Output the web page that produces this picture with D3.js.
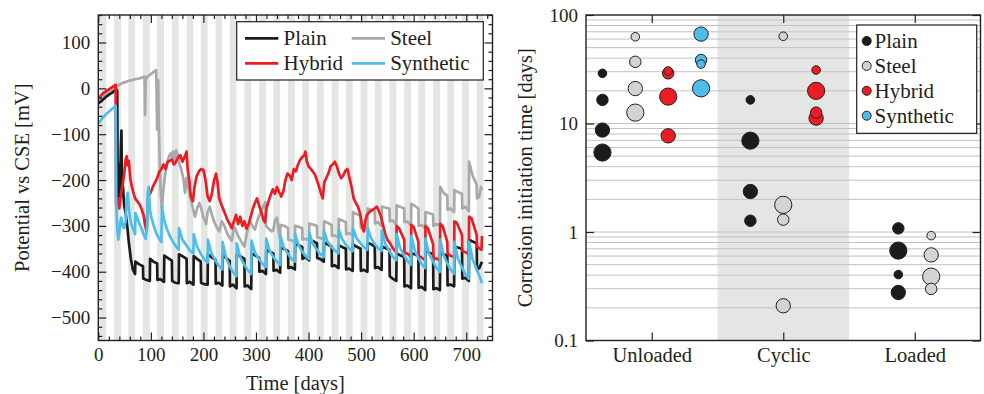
<!DOCTYPE html>
<html>
<head>
<meta charset="utf-8">
<script src="https://cdn.jsdelivr.net/npm/d3@7"></script>
<style>
  html, body { margin: 0; padding: 0; background: #fff; }
  svg { display: block; font-family: "Liberation Serif", "DejaVu Serif", serif; }
</style>
</head>
<body>
<div id="chart"></div>
<script>
// ---- data: left panel (potential vs time) ----
const seriesNames = ["Plain", "Steel", "Hybrid", "Synthetic"];
const seriesColors = { Plain: "#1c1a1b", Steel: "#a9a9ab", Hybrid: "#ec1c24", Synthetic: "#4fbdea" };

// start day of each grey (wet) period, 13 days long
const wetStarts = [2, 30, 57, 85, 112, 140, 168, 195, 223, 250, 278, 306, 333, 361, 388, 416, 444, 471, 499, 526, 554, 582, 609, 637, 664, 692, 720];
const wetLength = 13;

const timeTicks = [0, 100, 200, 300, 400, 500, 600, 700];
const potentialTicks = [-500, -400, -300, -200, -100, 0, 100];

const plainSeries = [
  [0,-33],[3,-30],[6,-28],[9,-24],[12,-22],[15,-18],[18,-16],[21,-13],[24,-11],[27,-9],[30,-6],[33,-4],[35,-3],
  [36,-6],[37,-240],[39,-165],[41,-235],[43,-130],[44,-92],[45,-205],[47,-215],[49,-255],[52,-272],[55,-300],[58,-335],[62,-372],[66,-396],[70,-405],
  [70.5,-378],[78,-384],[85,-388],[85.5,-415],[92,-418],[98,-420],
  [98.5,-372],[105,-378],[112,-382],[112.5,-418],[118,-416],[125,-422],
  [125.5,-365],[132,-370],[140,-376],[140.5,-420],[146,-424],[153,-425],
  [153.5,-362],[160,-366],[168,-372],[168.5,-425],[174,-422],[181,-428],
  [181.5,-366],[188,-372],[195,-378],[195.5,-424],[201,-427],[208,-428],
  [208.5,-362],[215,-368],[223,-374],[223.5,-426],[229,-424],[236,-430],
  [236.5,-365],[243,-370],[250,-376],[250.5,-432],[256,-428],[263,-436],
  [263.5,-362],[270,-366],[278,-372],[278.5,-432],[284,-430],[291,-438],
  [291.5,-360],[298,-364],[306,-370],[306.5,-400],[312,-398],[319,-405],
  [319.5,-352],[326,-356],[333,-360],[333.5,-398],[339,-396],[346,-402],
  [346.5,-348],[353,-350],[361,-355],[361.5,-392],[367,-390],[374,-395],
  [374.5,-340],[381,-342],[388,-346],[388.5,-372],[394,-368],[401,-375],
  [401.5,-330],[408,-333],[416,-338],[416.5,-370],[422,-372],[429,-378],
  [429.5,-336],[436,-340],[444,-345],[444.5,-388],[450,-386],[457,-392],
  [457.5,-342],[464,-346],[471,-350],[471.5,-395],[477,-393],[484,-398],
  [484.5,-340],[491,-345],[499,-350],[499.5,-398],[505,-396],[512,-400],
  [512.5,-337],[519,-340],[526,-345],[526.5,-392],[532,-390],[539,-396],
  [539.5,-345],[546,-348],[554,-352],[554.5,-410],[560,-415],[567,-420],
  [567.5,-360],[574,-364],[582,-368],[582.5,-432],[588,-430],[595,-436],
  [595.5,-360],[602,-362],[609,-366],[609.5,-435],[615,-433],[622,-440],
  [622.5,-355],[629,-358],[637,-362],[637.5,-438],[643,-436],[650,-440],
  [650.5,-360],[657,-362],[664,-365],[664.5,-430],[670,-428],[677,-432],
  [677.5,-345],[684,-347],[692,-350],[692.5,-415],[698,-413],[705,-420],
  [705.5,-330],[712,-334],[720,-338],[720.5,-395],[725,-392],[730,-378]
];

const steelSeries = [
  [0,-28],[4,-24],[8,-19],[12,-14],[16,-10],[20,-6],[25,-3],[30,1],[35,4],[40,8],[45,11],[50,13],[55,15],[60,17],[65,18],[70,20],
  [75,21],[80,22],[85,24],[88,26],[89,-58],[90,18],[93,25],[96,28],[100,31],[104,35],[108,38],[110,40],[111,-10],[112,-90],[113,8],
  [114,18],[115,-70],[117,-165],[119,-235],[121,-262],[123,-232],[126,-198],[130,-168],[134,-150],[137,-142],[140,-150],[142,-138],
  [145,-158],[148,-135],[151,-145],[154,-162],[158,-178],[162,-198],[165,-228],[168,-195],[171,-212],[175,-238],[180,-262],[184,-280],
  [188,-262],[192,-250],[196,-262],[200,-282],[205,-296],[208,-270],[212,-258],[216,-275],[220,-290],[225,-302],[230,-312],[235,-290],
  [240,-300],[245,-316],[250,-326],[254,-332],[258,-302],[262,-310],[266,-322],[270,-330],[274,-338],[278,-345],[282,-320],[286,-300],
  [290,-292],[294,-302],[298,-308],[302,-290],[306,-278],[310,-268],[314,-258],[318,-248],[319,-300],[324,-306],[330,-312],[333,-310],
  [336,-288],[340,-282],[344,-318],[346,-330],
  [346.5,-298],[354,-300],[361,-305],[361.5,-330],[368,-332],[374,-335],
  [374.5,-300],[381,-302],[388,-305],[388.5,-330],[395,-328],[401,-332],
  [401.5,-295],[408,-297],[416,-300],[416.5,-325],[422,-326],[429,-330],
  [429.5,-290],[436,-293],[444,-298],[444.5,-322],[450,-321],[457,-325],
  [457.5,-285],[464,-288],[471,-292],[471.5,-318],[477,-316],[484,-320],
  [484.5,-270],[491,-274],[499,-278],[499.5,-305],[505,-303],[512,-310],
  [512.5,-262],[519,-265],[526,-268],[526.5,-295],[532,-292],[539,-300],
  [539.5,-258],[546,-260],[554,-262],[554.5,-290],[560,-288],[567,-298],
  [567.5,-255],[574,-258],[582,-262],[582.5,-292],[588,-290],[595,-300],
  [595.5,-252],[602,-256],[609,-262],[609.5,-300],[615,-298],[622,-305],
  [622.5,-270],[629,-272],[637,-275],[637.5,-300],[643,-296],[650,-300],
  [650.5,-215],[657,-228],[664,-235],[664.5,-265],[670,-262],[677,-270],
  [677.5,-222],[684,-226],[692,-230],[692.5,-262],[698,-258],[705,-268],
  [705.5,-160],[712,-190],[720,-210],[720.5,-240],[725,-236],[728,-215],[730,-222]
];

const hybridSeries = [
  [0,-22],[4,-17],[8,-12],[12,-8],[16,-5],[20,-2],[24,1],[28,4],[31,6],[33,8],
  [34,-255],[37,-240],[40,-262],[43,-232],[46,-212],[49,-190],[52,-155],[54,-148],[56,-168],[58,-158],[61,-198],[64,-215],[67,-228],
  [70,-240],[74,-246],[78,-252],[82,-262],[86,-276],[89,-298],[92,-312],[94,-242],[97,-232],[100,-226],[104,-214],[108,-205],[112,-196],
  [116,-182],[120,-176],[124,-166],[128,-176],[132,-160],[136,-158],[140,-155],[144,-166],[148,-160],[152,-150],[156,-146],[160,-160],
  [164,-150],[168,-138],[170,-176],[173,-200],[176,-236],[180,-246],[183,-215],[187,-192],[192,-180],[196,-176],[200,-178],[204,-200],
  [208,-236],[212,-246],[216,-230],[220,-202],[224,-186],[227,-206],[230,-240],[235,-256],[240,-270],[245,-285],[250,-296],[254,-305],
  [258,-290],[262,-276],[266,-296],[270,-280],[274,-300],[278,-290],[282,-306],[286,-296],[290,-280],[294,-262],[298,-250],[302,-240],
  [305,-252],[310,-270],[314,-286],[317,-292],[320,-262],[324,-246],[328,-232],[332,-220],[336,-230],[340,-215],[344,-226],[348,-236],
  [352,-225],[356,-200],[360,-186],[364,-190],[368,-200],[372,-176],[376,-181],[380,-166],[384,-156],[388,-150],[392,-146],[394,-138],
  [397,-160],[400,-170],[404,-175],[408,-181],[412,-188],[416,-200],[420,-215],[424,-230],[427,-240],[430,-205],[434,-195],[438,-185],
  [442,-170],[446,-166],[450,-160],[454,-170],[458,-186],[462,-196],[466,-190],[470,-180],[474,-176],[478,-196],[482,-216],[486,-240],
  [490,-250],[494,-258],[498,-272],[502,-300],[505,-312],[508,-290],[511,-276],[516,-270],[520,-266],[526,-262],[530,-258],[534,-268],
  [538,-280],[542,-300],[546,-318],[550,-330],[554,-336],[560,-348],[567,-358],
  [567.5,-300],[572,-305],[582,-330],[582.5,-358],[590,-362],[595,-368],
  [595.5,-298],[600,-302],[609,-335],[609.5,-365],[616,-370],[622,-375],
  [622.5,-300],[627,-305],[637,-340],[637.5,-370],[645,-372],[650,-375],
  [650.5,-295],[655,-300],[664,-335],[664.5,-360],[670,-365],[677,-368],
  [677.5,-290],[682,-293],[692,-320],[692.5,-355],[700,-358],[705,-362],
  [705.5,-280],[710,-283],[720,-320],[720.5,-345],[726,-350],[729,-352],[730,-322]
];

const syntheticSeries = [
  [0,-76],[3,-72],[6,-68],[9,-63],[12,-60],[15,-56],[18,-53],[21,-50],[24,-47],[27,-44],[30,-41],[33,-38],
  [34,-250],[36,-305],[38,-330],[40,-315],[42,-290],[44,-282],[46,-298],[49,-305],[52,-290],[54,-240],[56,-228],[58,-262],[61,-288],
  [64,-300],[67,-310],[70,-318],[70.5,-272],[74,-282],[78,-295],[82,-305],[86,-318],[90,-328],[93,-300],[94,-228],[96,-215],[98,-262],
  [101,-282],[105,-298],[110,-315],[115,-326],[120,-335],[121,-258],[125,-285],[130,-305],[136,-322],[142,-335],[148,-345],[153,-352],
  [153.5,-305],[160,-330],[168,-343],[174,-353],[181,-360],
  [181.5,-318],[188,-346],[195,-361],[201,-372],[208,-380],
  [208.5,-330],[215,-359],[223,-376],[229,-387],[236,-395],
  [236.5,-335],[243,-369],[250,-388],[256,-400],[263,-410],
  [263.5,-338],[270,-368],[278,-385],[284,-396],[291,-405],
  [291.5,-332],[298,-358],[306,-373],[312,-382],[319,-390],
  [319.5,-328],[326,-354],[333,-368],[339,-377],[346,-385],
  [346.5,-322],[353,-347],[361,-361],[367,-371],[374,-378],
  [374.5,-318],[381,-342],[388,-356],[394,-365],[401,-372],
  [401.5,-315],[408,-339],[416,-352],[422,-361],[429,-368],
  [429.5,-312],[436,-334],[444,-346],[450,-354],[457,-360],
  [457.5,-308],[464,-329],[471,-341],[477,-349],[484,-355],
  [484.5,-305],[491,-326],[499,-338],[505,-346],[512,-352],
  [512.5,-305],[519,-327],[526,-340],[532,-348],[539,-355],
  [539.5,-310],[546,-339],[554,-355],[560,-367],[567,-375],
  [567.5,-318],[574,-348],[582,-365],[588,-376],[595,-385],
  [595.5,-322],[602,-353],[609,-371],[615,-383],[622,-392],
  [622.5,-328],[629,-360],[637,-378],[643,-391],[650,-400],
  [650.5,-330],[657,-364],[664,-382],[670,-395],[677,-405],
  [677.5,-335],[684,-371],[692,-391],[698,-405],[705,-415],
  [705.5,-335],[712,-372],[720,-395],[726,-412],[730,-425]
];

// ---- data: right panel (corrosion initiation time) ----
const loadCases = ["Unloaded", "Cyclic", "Loaded"];
const shadedCase = "Cyclic";
const initTicks = [0.1, 1, 10, 100];
// [load case, initiation time in days, marker size class]
const plainInit = [
  ["Unloaded", 29, 1], ["Unloaded", 16.5, 2], ["Unloaded", 8.7, 3], ["Unloaded", 5.4, 4],
  ["Cyclic", 16.5, 1], ["Cyclic", 6.95, 4], ["Cyclic", 2.36, 3], ["Cyclic", 1.27, 2],
  ["Loaded", 1.08, 2], ["Loaded", 0.674, 4], ["Loaded", 0.405, 1], ["Loaded", 0.277, 3]
];
const steelInit = [
  ["Unloaded", 63, 1], ["Unloaded", 37, 2], ["Unloaded", 21, 3], ["Unloaded", 12.6, 4],
  ["Cyclic", 63.7, 1], ["Cyclic", 1.78, 4], ["Cyclic", 1.30, 2], ["Cyclic", 0.209, 3],
  ["Loaded", 0.926, 1], ["Loaded", 0.615, 3], ["Loaded", 0.388, 4], ["Loaded", 0.299, 2]
];
const hybridInit = [
  ["Unloaded", 30.5, 1], ["Unloaded", 29, 2], ["Unloaded", 17.7, 4], ["Unloaded", 7.7, 3],
  ["Cyclic", 31.1, 1], ["Cyclic", 20, 4], ["Cyclic", 12.6, 2], ["Cyclic", 11.2, 3]
];
const syntheticInit = [
  ["Unloaded", 66.7, 3], ["Unloaded", 38.4, 2], ["Unloaded", 35.3, 1], ["Unloaded", 21.1, 4]
];
const initFill = { Plain: "#1c1a1b", Steel: "#d3d3d3", Hybrid: "#ec1c24", Synthetic: "#4fbdea" };

// ---- drawing ----
const W = 984, H = 394;
const ink = "#231f20";
const bandFill = "#e4e6e4";

const svg = d3.select("#chart").append("svg")
  .attr("width", W)
  .attr("height", H);

// ===== left panel =====
const L = { x0: 98.3, x1: 492.5, y0: 15, y1: 340.5 };
const xL = d3.scaleLinear().domain([0, 750]).range([L.x0, L.x1]);
const yL = d3.scaleLinear().domain([-550, 160]).range([L.y1, L.y0]);

svg.append("clipPath").attr("id", "clipL")
  .append("rect")
  .attr("x", L.x0).attr("y", L.y0)
  .attr("width", L.x1 - L.x0).attr("height", L.y1 - L.y0);

const left = svg.append("g");
const plotL = left.append("g").attr("clip-path", "url(#clipL)");

plotL.selectAll(".wet")
  .data(wetStarts)
  .enter()
  .append("rect")
  .attr("class", "wet")
  .attr("x", d => xL(d))
  .attr("y", L.y0)
  .attr("width", d => xL(d + wetLength) - xL(d))
  .attr("height", L.y1 - L.y0)
  .attr("fill", bandFill);

const line = d3.line()
  .x(d => xL(d[0]))
  .y(d => yL(d[1]));

const lineData = [
  ["Steel", steelSeries],
  ["Plain", plainSeries],
  ["Hybrid", hybridSeries],
  ["Synthetic", syntheticSeries]
];

plotL.selectAll(".series")
  .data(lineData)
  .enter()
  .append("path")
  .attr("class", "series")
  .attr("fill", "none")
  .attr("stroke", d => seriesColors[d[0]])
  .attr("stroke-width", 2.7)
  .attr("stroke-linejoin", "round")
  .attr("d", d => line(d[1]));

function styleAxis(g, fontSize) {
  g.select(".domain").remove();
  g.selectAll("line").attr("stroke", ink).attr("stroke-width", 1.2);
  g.selectAll("text")
    .attr("fill", ink)
    .style("font-family", "Liberation Serif")
    .style("font-size", fontSize + "px");
}

const minorX = d3.range(0, 751, 20).filter(v => v % 100 !== 0);
const minorY = d3.range(-540, 161, 20).filter(v => v % 100 !== 0);

left.append("g")
  .attr("transform", `translate(0,${L.y1})`)
  .call(d3.axisBottom(xL).tickValues(timeTicks).tickSize(-8).tickPadding(7))
  .call(g => styleAxis(g, 19));
left.append("g")
  .attr("transform", `translate(0,${L.y1})`)
  .call(d3.axisBottom(xL).tickValues(minorX).tickSize(-4).tickFormat(""))
  .call(g => styleAxis(g, 19));
left.append("g")
  .attr("transform", `translate(0,${L.y0})`)
  .call(d3.axisTop(xL).tickValues(timeTicks).tickSize(-8).tickFormat(""))
  .call(g => styleAxis(g, 19));
left.append("g")
  .attr("transform", `translate(0,${L.y0})`)
  .call(d3.axisTop(xL).tickValues(minorX).tickSize(-4).tickFormat(""))
  .call(g => styleAxis(g, 19));

left.append("g")
  .attr("transform", `translate(${L.x0},0)`)
  .call(d3.axisLeft(yL).tickValues(potentialTicks).tickSize(-8).tickPadding(8))
  .call(g => styleAxis(g, 19));
left.append("g")
  .attr("transform", `translate(${L.x0},0)`)
  .call(d3.axisLeft(yL).tickValues(minorY).tickSize(-4).tickFormat(""))
  .call(g => styleAxis(g, 19));
left.append("g")
  .attr("transform", `translate(${L.x1},0)`)
  .call(d3.axisRight(yL).tickValues(potentialTicks).tickSize(-8).tickFormat(""))
  .call(g => styleAxis(g, 19));
left.append("g")
  .attr("transform", `translate(${L.x1},0)`)
  .call(d3.axisRight(yL).tickValues(minorY).tickSize(-4).tickFormat(""))
  .call(g => styleAxis(g, 19));

left.append("rect")
  .attr("x", L.x0).attr("y", L.y0)
  .attr("width", L.x1 - L.x0).attr("height", L.y1 - L.y0)
  .attr("fill", "none")
  .attr("stroke", ink)
  .attr("stroke-width", 1.4);

left.append("text")
  .attr("x", (L.x0 + L.x1) / 2)
  .attr("y", 390)
  .attr("text-anchor", "middle")
  .style("font-size", "20.5px")
  .attr("fill", ink)
  .text("Time [days]");

left.append("text")
  .attr("transform", `translate(29,${(L.y0 + L.y1) / 2}) rotate(-90)`)
  .attr("text-anchor", "middle")
  .style("font-size", "20.5px")
  .attr("fill", ink)
  .text("Potential vs CSE [mV]");

// legend (two columns)
const legL = left.append("g");
legL.append("rect")
  .attr("x", 236.7).attr("y", 21.7)
  .attr("width", 246.6).attr("height", 58.3)
  .attr("fill", "#fff")
  .attr("stroke", ink)
  .attr("stroke-width", 1.2);

const legLItems = [
  { name: "Plain", col: 0, row: 0 },
  { name: "Steel", col: 1, row: 0 },
  { name: "Hybrid", col: 0, row: 1 },
  { name: "Synthetic", col: 1, row: 1 }
];
const legColX = [245, 351.7];
const legRowY = [38.3, 63.3];

legLItems.forEach(d => {
  const x = legColX[d.col], y = legRowY[d.row];
  legL.append("line")
    .attr("x1", x).attr("x2", x + 33.3)
    .attr("y1", y).attr("y2", y)
    .attr("stroke", seriesColors[d.name])
    .attr("stroke-width", 2.8);
  legL.append("text")
    .attr("x", x + 38.5)
    .attr("y", y + 7)
    .style("font-size", "21px")
    .attr("fill", ink)
    .text(d.name);
});

// ===== right panel =====
const R = { x0: 586, x1: 980.5, y0: 15, y1: 340.5 };
const xR = d3.scaleLinear().domain([0.5, 3.5]).range([R.x0, R.x1]);
const yR = d3.scaleLog().domain([0.1, 100]).range([R.y1, R.y0]);
const rScale = d3.scaleLinear().domain([1, 4]).range([4.3, 8.6]);

const right = svg.append("g");

const shadeIdx = loadCases.indexOf(shadedCase) + 1;
right.append("rect")
  .attr("x", xR(shadeIdx - 0.5))
  .attr("y", R.y0)
  .attr("width", xR(shadeIdx + 0.5) - xR(shadeIdx - 0.5))
  .attr("height", R.y1 - R.y0)
  .attr("fill", bandFill);

// horizontal log grid
const gridVals = [];
[0.1, 1, 10].forEach(dec => {
  for (let k = 1; k <= 9; k++) gridVals.push(k * dec);
});
right.selectAll(".grid")
  .data(gridVals.filter(v => v > 0.1))
  .enter()
  .append("line")
  .attr("class", "grid")
  .attr("x1", R.x0).attr("x2", R.x1)
  .attr("y1", d => yR(d)).attr("y2", d => yR(d))
  .attr("stroke", "#c2c2c2")
  .attr("stroke-width", 1);

// points
const initData = [];
[["Plain", plainInit], ["Steel", steelInit], ["Hybrid", hybridInit], ["Synthetic", syntheticInit]]
  .forEach(([name, arr]) => arr.forEach(d => initData.push({ series: name, load: d[0], days: d[1], size: d[2] })));

// horizontal offset: series present in each load case are centred on the tick
const offsetOf = {};
loadCases.forEach(c => {
  const present = seriesNames.filter(s => initData.some(d => d.load === c && d.series === s));
  present.forEach((s, i) => { offsetOf[c + "|" + s] = (i - (present.length - 1) / 2) * 0.25; });
});

const sortedInit = initData.slice().sort((a, b) => b.size - a.size);
right.selectAll(".pt")
  .data(sortedInit)
  .enter()
  .append("circle")
  .attr("class", "pt")
  .attr("cx", d => xR(loadCases.indexOf(d.load) + 1 + offsetOf[d.load + "|" + d.series]))
  .attr("cy", d => yR(d.days))
  .attr("r", d => rScale(d.size))
  .attr("fill", d => initFill[d.series])
  .attr("stroke", ink)
  .attr("stroke-width", 1);

// axes
right.append("g")
  .attr("transform", `translate(0,${R.y1})`)
  .call(d3.axisBottom(xR).tickValues([1, 2, 3]).tickSize(-8).tickPadding(7).tickFormat(i => loadCases[i - 1]))
  .call(g => styleAxis(g, 20.5));
right.append("g")
  .attr("transform", `translate(0,${R.y0})`)
  .call(d3.axisTop(xR).tickValues([1, 2, 3]).tickSize(-8).tickFormat(""))
  .call(g => styleAxis(g, 19));
right.append("g")
  .attr("transform", `translate(${R.x0},0)`)
  .call(d3.axisLeft(yR).tickValues(initTicks).tickSize(-8).tickPadding(8).tickFormat(d => String(d)))
  .call(g => styleAxis(g, 19));
right.append("g")
  .attr("transform", `translate(${R.x1},0)`)
  .call(d3.axisRight(yR).tickValues(initTicks).tickSize(-8).tickFormat(""))
  .call(g => styleAxis(g, 19));

right.append("rect")
  .attr("x", R.x0).attr("y", R.y0)
  .attr("width", R.x1 - R.x0).attr("height", R.y1 - R.y0)
  .attr("fill", "none")
  .attr("stroke", ink)
  .attr("stroke-width", 1.4);

right.append("text")
  .attr("transform", `translate(532,${(R.y0 + R.y1) / 2}) rotate(-90)`)
  .attr("text-anchor", "middle")
  .style("font-size", "20.5px")
  .attr("fill", ink)
  .text("Corrosion initiation time [days]");

// legend
const legR = right.append("g");
legR.append("rect")
  .attr("x", 856.7).attr("y", 25)
  .attr("width", 120).attr("height", 108.3)
  .attr("fill", "#fff")
  .attr("stroke", ink)
  .attr("stroke-width", 1.2);

seriesNames.forEach((name, i) => {
  const y = 41 + i * 24.9;
  legR.append("circle")
    .attr("cx", 866.7).attr("cy", y)
    .attr("r", 4.5)
    .attr("fill", initFill[name])
    .attr("stroke", ink)
    .attr("stroke-width", 1);
  legR.append("text")
    .attr("x", 874.5)
    .attr("y", y + 7)
    .style("font-size", "21px")
    .attr("fill", ink)
    .text(name);
});
</script>
</body>
</html>
